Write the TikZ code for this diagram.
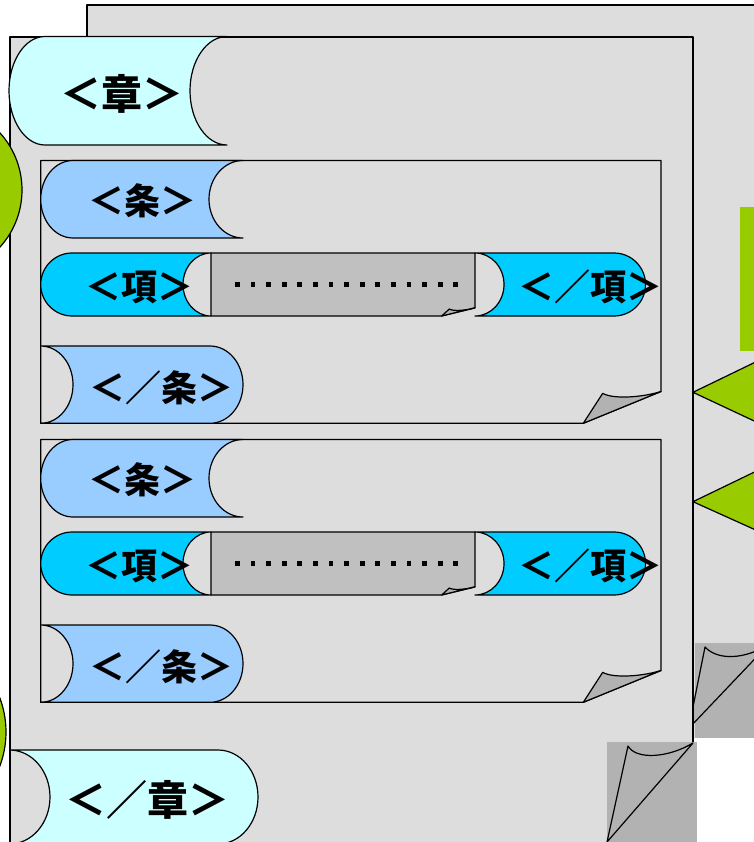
\documentclass[tikz,border=0pt]{standalone}
\usepackage{fontspec}
\setmainfont{Noto Sans CJK JP}
\definecolor{pagegray}{HTML}{DDDDDD}
\definecolor{foldgray}{HTML}{B2B2B2}
\definecolor{boxgray}{HTML}{C0C0C0}
\definecolor{shocol}{HTML}{CCFFFF}
\definecolor{jocol}{HTML}{99CCFF}
\definecolor{kocol}{HTML}{00CCFF}
\definecolor{greenc}{HTML}{99CC00}
% #1 xa, #2 xb, #3 y1, #4 y2, #5 left bulge, #6 right bulge, #7 fill
\newcommand\mytag[7]{%
\filldraw[fill=#7] (#1,#3) -- (#2,#3)
 .. controls ({#2+0.5523*(#6)},#3) and ({#2+(#6)},{(#3+#4)/2-0.5523*(#4-#3)/2}) .. ({#2+(#6)},{(#3+#4)/2})
 .. controls ({#2+(#6)},{(#3+#4)/2+0.5523*(#4-#3)/2}) and ({#2+0.5523*(#6)},#4) .. (#2,#4)
 -- (#1,#4)
 .. controls ({#1-0.5523*(#5)},#4) and ({#1-(#5)},{(#3+#4)/2+0.5523*(#4-#3)/2}) .. ({#1-(#5)},{(#3+#4)/2})
 .. controls ({#1-(#5)},{(#3+#4)/2-0.5523*(#4-#3)/2}) and ({#1-0.5523*(#5)},#3) .. (#1,#3) -- cycle;}
\tikzset{
  every path/.style={line width=1.2pt, line join=round},
  bigtxt/.style={font=\fontsize{41}{41}\selectfont\bfseries, inner sep=0pt},
  midtxt/.style={font=\fontsize{36}{36}\selectfont\bfseries, inner sep=0pt},
}
\newcommand\articlegroup[2]{%
\begin{scope}[shift={(0,#1)}]
 % article box with folded corner
 \filldraw[fill=pagegray] (40.7,160.5) -- (661,160.5) -- (661,391.5) -- (583.3,423.3) -- (40.7,423.3) -- cycle;
 \filldraw[fill=foldgray] (602.7,393.3) .. controls (612,399) and (640,398) .. (661,391.5) -- (583.3,423.3) -- cycle;
 % <jo>
 \mytag{73}{243}{160.5}{238}{32.3}{-34}{jocol}
 \node[midtxt] (jo#2) at (142,201) {＜条＞};
 % dotted box
 \filldraw[fill=boxgray] (211,253) -- (475,253) -- (475,308) -- (441.7,316) -- (211,316) -- cycle;
 \filldraw[fill=foldgray] (449.3,309) .. controls (453,311.5) and (466,310.5) .. (475,307.7) -- (441.7,316) -- cycle;
 \foreach \i in {0,...,14} \fill ({237.3+15.6*\i-2.4},282) rectangle +(4.8,4.8);
 % <ko> and </ko>
 \mytag{72.2}{211}{253}{316}{31.5}{-28}{kocol}
 \mytag{475}{614}{253}{316}{-29}{31.5}{kocol}
 \node[midtxt] (ko#2) at (139,287) {＜項＞};
 \node[midtxt] (koend#2) at (590,287) {＜／項＞};
 % </jo>
 \mytag{40.7}{210}{346}{423.3}{-32.3}{33}{jocol}
 \node[midtxt] (joend#2) at (161,388) {＜／条＞};
\end{scope}}
\begin{document}
\begin{tikzpicture}[x=1pt,y=-1pt]
\useasboundingbox (0,0) rectangle (753,842);
% back page
\fill[pagegray] (87,5) rectangle (800,738);
\draw (87,37) -- (87,5) -- (800,5);
\fill[foldgray] (695,643) rectangle (800,738);
\filldraw[fill=foldgray] (705,647) .. controls (718,661) and (745,659) .. (768,645) -- (688.7,728.4) -- cycle;
% green marks on the right
\fill[greenc] (739.5,207) rectangle (800,351);
\filldraw[fill=greenc] (693,392.3) -- (800,340.5) -- (800,442.5) -- cycle;
\filldraw[fill=greenc] (693,501.7) -- (800,450) -- (800,550) -- cycle;
% front page
\fill[pagegray] (10,37) -- (693,37) -- (693,742) -- (607,742) -- (607,850) -- (10,850) -- cycle;
\draw (10,850) -- (10,37) -- (693,37) -- (693,742);
\fill[foldgray] (607,742) rectangle (697,850);
\filldraw[fill=foldgray] (628,746) .. controls (636,760) and (668,758) .. (693,743) -- (607,842) -- cycle;
% chapter tags
\mytag{45}{227}{36.5}{145}{36}{-37}{shocol}
\node[bigtxt] (sho) at (122,94) {＜章＞};
\articlegroup{0}{a}
\articlegroup{279}{b}
\mytag{9.5}{218}{750}{844}{-40.5}{40}{shocol}
\node[bigtxt] (shoend) at (147,800) {＜／章＞};
% green marks on the left
\filldraw[fill=greenc] (-63,190) circle[radius=85];
\filldraw[fill=greenc] (-90.5,732) circle[radius=96.5];
\end{tikzpicture}
\end{document}
